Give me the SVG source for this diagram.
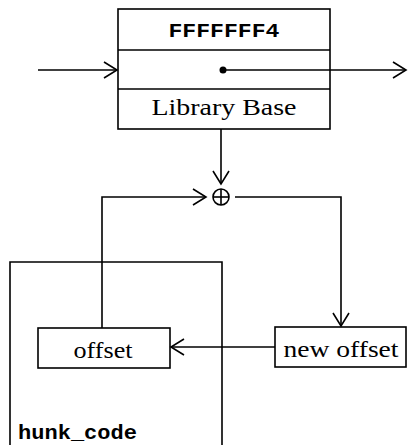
<svg xmlns="http://www.w3.org/2000/svg" width="408" height="445" viewBox="0 0 408 445">
<style>
.ln{fill:none;stroke:#000;stroke-width:1.6}
.bx{fill:#fff;stroke:#000;stroke-width:1.6}
.rm{font-family:"Liberation Serif",serif;font-size:24px;fill:#000}
.tt{font-family:"Liberation Mono",monospace;font-size:21px;font-weight:bold;fill:#000}
</style>
<defs>
<marker id="ah" markerUnits="userSpaceOnUse" markerWidth="18" markerHeight="20" refX="13" refY="8" orient="auto" overflow="visible">
<path d="M0,0 L13,8 L0,16" fill="none" stroke="#000" stroke-width="1.6"/>
</marker>
</defs>
<g id="hunk_code">
<path class="ln" d="M10,445 V262 H222 V445"/>
<text class="tt" x="18" y="439" textLength="119" lengthAdjust="spacingAndGlyphs">hunk_code</text>
</g>
<g id="library">
<rect class="bx" x="118" y="9" width="212" height="120"/>
<line class="ln" x1="118" y1="50" x2="330" y2="50"/>
<line class="ln" x1="118" y1="89" x2="330" y2="89"/>
<text class="tt" x="224" y="37" text-anchor="middle" textLength="111" lengthAdjust="spacingAndGlyphs">FFFFFFF4</text>
<circle cx="223" cy="70" r="3.5" fill="#000"/>
<text class="rm" x="224" y="115" text-anchor="middle" textLength="145" lengthAdjust="spacingAndGlyphs">Library Base</text>
</g>
<g id="plus">
<circle class="ln" cx="221" cy="197" r="8"/>
<line class="ln" x1="213" y1="197" x2="229" y2="197"/>
<line class="ln" x1="221" y1="189" x2="221" y2="205"/>
</g>
<g id="offset">
<rect class="bx" x="38" y="328" width="132" height="40"/>
<text class="rm" x="103" y="358" text-anchor="middle" textLength="59" lengthAdjust="spacingAndGlyphs">offset</text>
</g>
<g id="new_offset">
<rect class="bx" x="275" y="327" width="131" height="40"/>
<text class="rm" x="341" y="357" text-anchor="middle" textLength="115" lengthAdjust="spacingAndGlyphs">new offset</text>
</g>
<g id="connectors">
<line class="ln" x1="38" y1="70" x2="117" y2="70" marker-end="url(#ah)"/>
<line class="ln" x1="223" y1="70" x2="406" y2="70" marker-end="url(#ah)"/>
<line class="ln" x1="221" y1="129" x2="221" y2="184" marker-end="url(#ah)"/>
<polyline class="ln" points="102,328 102,197 206,197" marker-end="url(#ah)"/>
<polyline class="ln" points="235,197 341,197 341,326" marker-end="url(#ah)"/>
<line class="ln" x1="275" y1="347" x2="171" y2="347" marker-end="url(#ah)"/>
</g>
</svg>
